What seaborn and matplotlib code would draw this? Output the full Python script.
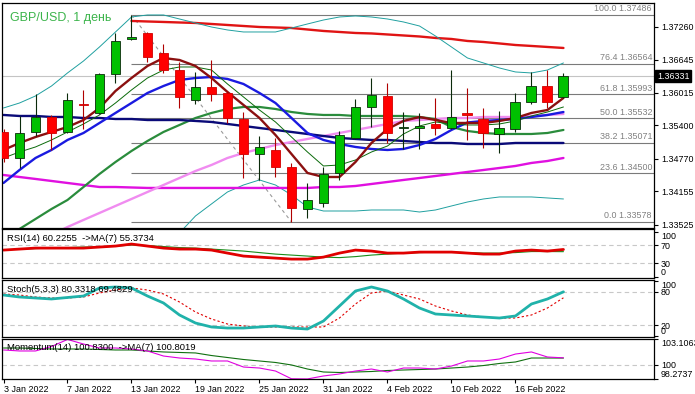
import numpy as np
import pandas as pd
import matplotlib
matplotlib.use("Agg")
import matplotlib.pyplot as plt
import matplotlib.transforms as mtransforms
import seaborn as sns

nan = np.nan

# ---------------- data ----------------
dates = pd.bdate_range("2022-01-03", periods=36)
title = "GBP/USD, 1 день"

open_ = [1.35277, 1.34786, 1.35277, 1.35560, 1.35277, 1.35796, 1.35636, 1.36372, 1.37027, 1.37146,
         1.36768, 1.36447, 1.35881, 1.36126, 1.36013, 1.35522, 1.34861, 1.34937, 1.34616, 1.33823,
         1.33936, 1.34503, 1.35164, 1.35749, 1.35957, 1.35343, 1.35352, 1.35428, 1.35352, 1.35636,
         1.35522, 1.35239, 1.35333, 1.35843, 1.36145, 1.35938]
high = [1.35333, 1.35579, 1.35994, 1.35598, 1.36013, 1.36070, 1.36391, 1.37146, 1.37486, 1.37165,
        1.36938, 1.36598, 1.36410, 1.36636, 1.36051, 1.35654, 1.35201, 1.35164, 1.34692, 1.34314,
        1.34616, 1.35296, 1.35900, 1.36296, 1.36202, 1.35654, 1.35636, 1.35919, 1.36447, 1.36108,
        1.35730, 1.35673, 1.36013, 1.36410, 1.36447, 1.36391]
low = [1.34710, 1.34597, 1.35201, 1.34937, 1.35258, 1.35333, 1.35617, 1.36202, 1.37014, 1.36598,
       1.36391, 1.35730, 1.35806, 1.35862, 1.35447, 1.34408, 1.34371, 1.34427, 1.33578, 1.33653,
       1.33861, 1.34371, 1.35145, 1.35371, 1.35069, 1.34956, 1.34956, 1.35220, 1.35333, 1.35126,
       1.34975, 1.34880, 1.35277, 1.35806, 1.35730, 1.35919]
close = [1.34786, 1.35258, 1.35560, 1.35258, 1.35881, 1.35787, 1.36372, 1.36995, 1.37076, 1.36693,
         1.36447, 1.35938, 1.36126, 1.35994, 1.35541, 1.34861, 1.34994, 1.34616, 1.33842, 1.33993,
         1.34484, 1.35220, 1.35749, 1.35975, 1.35258, 1.35362, 1.35381, 1.35352, 1.35560, 1.35588,
         1.35258, 1.35352, 1.35843, 1.36145, 1.35843, 1.36331]

ma_fast = [1.34937, 1.35069, 1.35182, 1.35277, 1.35371, 1.35503, 1.35730, 1.36051, 1.36296, 1.36523,
           1.36674, 1.36636, 1.36523, 1.36296, 1.36032, 1.35787, 1.35541, 1.35220, 1.34861, 1.34503,
           1.34427, 1.34427, 1.34710, 1.35069, 1.35333, 1.35485, 1.35560, 1.35503, 1.35447, 1.35447,
           1.35447, 1.35485, 1.35541, 1.35636, 1.35692, 1.35919]
ma_mid = [1.34786, 1.34899, 1.34994, 1.35126, 1.35277, 1.35428, 1.35598, 1.35824, 1.36070, 1.36296,
          1.36447, 1.36504, 1.36504, 1.36447, 1.36183, 1.35938, 1.35692, 1.35466, 1.35182, 1.34899,
          1.34635, 1.34654, 1.34748, 1.34899, 1.35012, 1.35239, 1.35390, 1.35466, 1.35428, 1.35409,
          1.35409, 1.35428, 1.35485, 1.35579, 1.35654, 1.35749]
ma_blue = [1.34314, 1.34559, 1.34786, 1.34937, 1.35126, 1.35258, 1.35447, 1.35636, 1.35824, 1.36013,
           1.36145, 1.36259, 1.36296, 1.36315, 1.36278, 1.36183, 1.36013, 1.35824, 1.35541, 1.35258,
           1.35126, 1.35050, 1.34994, 1.34956, 1.34937, 1.34956, 1.35031, 1.35145, 1.35315, 1.35456,
           1.35485, 1.35503, 1.35522, 1.35560, 1.35598, 1.35654]
ma_navy = [1.35598, 1.35579, 1.35579, 1.35560, 1.35560, 1.35541, 1.35541, 1.35522, 1.35522, 1.35503,
           1.35503, 1.35503, 1.35485, 1.35466, 1.35428, 1.35390, 1.35352, 1.35315, 1.35277, 1.35239,
           1.35201, 1.35164, 1.35145, 1.35126, 1.35126, 1.35107, 1.35088, 1.35069, 1.35069, 1.35050,
           1.35050, 1.35050, 1.35069, 1.35069, 1.35069, 1.35069]
ma_green = [1.33294, 1.33446, 1.33634, 1.33823, 1.33993, 1.34238, 1.34484, 1.34710, 1.34918, 1.35107,
            1.35277, 1.35409, 1.35541, 1.35636, 1.35711, 1.35749, 1.35749, 1.35711, 1.35654, 1.35617,
            1.35598, 1.35598, 1.35579, 1.35579, 1.35579, 1.35579, 1.35560, 1.35522, 1.35371, 1.35296,
            1.35258, 1.35239, 1.35239, 1.35239, 1.35258, 1.35315]
ma_pink = [nan, nan, nan, 1.33332, 1.33483, 1.33616, 1.33748, 1.33880, 1.34012, 1.34144,
           1.34276, 1.34408, 1.34540, 1.34654, 1.34786, 1.34880, 1.34956, 1.35031, 1.35088, 1.35145,
           1.35201, 1.35258, 1.35315, 1.35371, 1.35428, 1.35485, 1.35503, 1.35522, 1.35541, 1.35541,
           1.35560, 1.35560, 1.35560, 1.35579, 1.35598, 1.35617]
ma_magenta = [1.34465, 1.34427, 1.34390, 1.34352, 1.34314, 1.34276, 1.34238, 1.34238, 1.34229, 1.34220,
              1.34220, 1.34220, 1.34220, 1.34220, 1.34220, 1.34220, 1.34220, 1.34220, 1.34220, 1.34220,
              1.34238, 1.34238, 1.34257, 1.34295, 1.34333, 1.34371, 1.34408, 1.34446, 1.34484, 1.34522,
              1.34559, 1.34597, 1.34635, 1.34692, 1.34729, 1.34786]
ma_slow = [nan, nan, nan, nan, nan, nan, nan, nan, 1.37373, 1.37363,
           1.37354, 1.37344, 1.37335, 1.37316, 1.37297, 1.37278, 1.37259, 1.37250, 1.37240, 1.37212,
           1.37184, 1.37165, 1.37146, 1.37137, 1.37118, 1.37099, 1.37080, 1.37052, 1.37033, 1.36995,
           1.36976, 1.36948, 1.36919, 1.36901, 1.36882, 1.36863]
bb_upper = [1.35730, 1.35824, 1.35957, 1.36145, 1.36391, 1.36617, 1.36882, 1.37165, 1.37448, 1.37486,
            1.37486, 1.37410, 1.37335, 1.37259, 1.37203, 1.37165, 1.37165, 1.37165, 1.37240, 1.37316,
            1.37391, 1.37448, 1.37467, 1.37448, 1.37410, 1.37354, 1.37278, 1.37089, 1.36882, 1.36674,
            1.36580, 1.36485, 1.36410, 1.36391, 1.36447, 1.36580]
bb_lower = [nan, nan, nan, nan, nan, nan, nan, nan, nan, nan,
            nan, 1.33370, 1.33691, 1.33918, 1.34144, 1.34276, 1.34371, 1.34276, 1.34088, 1.33861,
            1.33785, 1.33785, 1.33785, 1.33804, 1.33804, 1.33804, 1.33766, 1.33804, 1.33880, 1.33955,
            1.34012, 1.34050, 1.34050, 1.34050, 1.34031, 1.34012]

rsi = [58.9, 61.1, 63.3, 63.3, 63.3, 63.3, 65.6, 67.8, 72.2, 67.8,
       63.3, 61.1, 61.1, 58.9, 52.2, 45.6, 43.3, 41.1, 38.9, 38.9,
       43.3, 52.2, 58.9, 56.7, 52.2, 52.2, 54.4, 54.4, 54.4, 52.2,
       50.0, 50.0, 56.7, 58.9, 56.7, 60.2255]
rsi_ma = [58.9, 61.1, 62.2, 63.3, 64.4, 65.6, 65.6, 67.8, 70.0, 68.9,
          66.7, 64.4, 63.3, 61.1, 58.9, 56.7, 53.3, 50.0, 47.8, 45.6,
          43.3, 42.2, 44.4, 47.8, 50.0, 52.2, 53.3, 54.4, 54.4, 53.3,
          52.2, 52.2, 53.3, 55.6, 55.6, 55.3734]
stoch_k = [74.5, 70.9, 69.1, 67.3, 70.0, 72.7, 87.3, 89.1, 87.3, 72.7,
           60.0, 38.2, 23.6, 16.4, 14.5, 14.5, 16.4, 18.2, 14.5, 12.7,
           27.3, 54.5, 81.8, 89.1, 81.8, 67.3, 50.9, 40.0, 38.2, 36.4,
           34.5, 32.7, 36.4, 58.2, 67.3, 80.3318]
stoch_d = [76.4, 74.5, 70.9, 69.1, 69.1, 70.9, 78.2, 83.6, 87.3, 83.6,
           76.4, 61.8, 43.6, 30.9, 21.8, 18.2, 16.4, 16.4, 16.4, 16.4,
           16.4, 32.7, 58.2, 78.2, 81.8, 74.5, 67.3, 54.5, 45.5, 38.2,
           34.5, 32.7, 32.7, 38.2, 50.9, 69.4829]
momentum = [101.78, 101.66, 101.66, 102.20, 103.05, 102.50, 102.02, 102.02, 101.90, 101.66,
            101.05, 100.81, 100.69, 100.45, 100.45, 99.72, 99.60, 99.24, 98.30, 98.28,
            98.64, 98.88, 99.24, 99.48, 99.12, 99.60, 99.60, 99.48, 99.84, 100.45,
            100.45, 100.69, 101.29, 101.54, 100.93, 100.8300]
momentum_ma = [102.02, 102.02, 101.96, 101.90, 101.90, 101.90, 101.84, 101.78, 101.78, 101.66,
               101.54, 101.48, 101.42, 101.11, 100.87, 100.63, 100.45, 100.27, 99.97, 99.48,
               99.12, 99.06, 99.12, 99.18, 99.30, 99.36, 99.42, 99.48, 99.60, 99.72,
               99.90, 100.15, 100.33, 100.81, 100.81, 100.8019]

fib_levels = [0.0, 23.6, 38.2, 50.0, 61.8, 76.4, 100.0]
price_ticks = [1.37260, 1.36645, 1.36015, 1.35400, 1.34770, 1.34155, 1.33525]
rsi_ticks = [0, 30, 70, 100]
rsi_levels = [30, 70]
stoch_ticks = [0, 20, 80, 100]
stoch_levels = [20, 80]
mom_ticks = [98.2737, 100, 103.1063]
mom_level = 100

# ---------------- style ----------------
sns.set_theme(style="white")
plt.rcParams["font.family"] = ["Liberation Sans", "DejaVu Sans"]
FS = 6.4
FS_LAB = 6.8

W, H = 695, 394
fig = plt.figure(figsize=(W / 100, H / 100), dpi=100)
fig.patch.set_facecolor("white")


def rect(top, bottom):
    return [2 / W, 1 - bottom / H, 652 / W, (bottom - top) / H]


ax = fig.add_axes(rect(3, 228))
ax_rsi = fig.add_axes(rect(229, 278))
ax_sto = fig.add_axes(rect(280, 337))
ax_mom = fig.add_axes(rect(339, 379))
axes = [ax, ax_rsi, ax_sto, ax_mom]

idx = np.arange(len(dates))
XL, XR = -0.094, 40.66

o = np.array(open_); h = np.array(high); l = np.array(low); c = np.array(close)


def line(a, values, color, lw, ls="-", z=2):
    s = pd.Series(values, index=idx, dtype=float).dropna()
    sns.lineplot(x=s.index.values, y=s.values, ax=a, color=color, linewidth=lw,
                 linestyle=ls, estimator=None, legend=False, zorder=z)


# ---------------- main panel ----------------
hi_i = int(np.argmax(h)); lo_i = int(np.argmin(l))
fhi, flo = h[hi_i], l[lo_i]
lab_tr = mtransforms.offset_copy(mtransforms.blended_transform_factory(ax.transAxes, ax.transData),
                                 fig=fig, x=-2, y=1.5, units="dots")
for lvl in fib_levels:
    p = flo + (fhi - flo) * lvl / 100
    ax.hlines(p, hi_i, XR, color="#7a7a7a", lw=0.8, zorder=1)
    ax.text(1.0, p, f"{lvl:.1f} {p:.5f}", transform=lab_tr, ha="right", va="bottom",
            fontsize=FS, color="#808080", zorder=6)
ax.plot([hi_i, lo_i], [fhi, flo], color="#9a9a9a", lw=0.8, ls=(0, (3, 3)), zorder=1)

ax.axhline(c[-1], color="#c4c4c4", lw=0.8, zorder=0.5)

line(ax, ma_slow, "#e01414", 1.7)
line(ax, bb_upper, "#20a0a0", 0.7)
line(ax, bb_lower, "#20a0a0", 0.7)
line(ax, ma_magenta, "#e010e0", 1.7)
line(ax, ma_pink, "#f08cf0", 1.7)
line(ax, ma_green, "#2a8c3c", 1.6)
line(ax, ma_navy, "#0a0a78", 1.7)
line(ax, ma_blue, "#1a1ae0", 1.7)
line(ax, ma_mid, "#0a6a0a", 0.7)
line(ax, ma_fast, "#8b1010", 1.7)

up = c >= o
body_bot = np.minimum(o, c)
body_h = np.maximum(np.abs(c - o), 0.00003)
ax.vlines(idx[up], l[up], h[up], color="#0a2a0a", lw=0.8, zorder=3)
ax.vlines(idx[~up], l[~up], h[~up], color="#b00000", lw=0.8, zorder=3)
ax.bar(idx[up], body_h[up], bottom=body_bot[up], width=0.62, color="#00c000",
       edgecolor="#0a2a0a", linewidth=0.6, zorder=4)
ax.bar(idx[~up], body_h[~up], bottom=body_bot[~up], width=0.62, color="#ff0000",
       edgecolor="#d00000", linewidth=0.6, zorder=4)

ax.set_ylim(1.33464, 1.37712)
ax.set_yticks(price_ticks)
ax.set_yticklabels([f"{v:.5f}" for v in price_ticks])

box_tr = mtransforms.offset_copy(mtransforms.blended_transform_factory(ax.transAxes, ax.transData),
                                 fig=fig, x=3, y=0, units="dots")
ax.text(1.0, c[-1], f"{c[-1]:.5f}", transform=box_tr, ha="left", va="center",
        fontsize=FS, color="white", clip_on=False, zorder=10,
        bbox=dict(boxstyle="square,pad=0.18", fc="black", ec="black"))

fig.text(10 / W, 1 - 18 / H, title, color="#3cb44b", fontsize=9, ha="left", va="center")

# ---------------- RSI ----------------
for lv in rsi_levels:
    ax_rsi.axhline(lv, color="#c8c8c8", lw=0.8, ls=(0, (4, 3)), zorder=1)
line(ax_rsi, rsi_ma, "#1a8c1a", 0.8)
line(ax_rsi, rsi, "#e00000", 2.0)
ax_rsi.set_ylim(-3, 105.6)
ax_rsi.set_yticks(rsi_ticks)
ax_rsi.set_yticklabels([str(v) for v in rsi_ticks])
ax_rsi.text(5 / 652, 0.816, f"RSI(14) {rsi[-1]:.4f}  ->MA(7) {rsi_ma[-1]:.4f}",
            transform=ax_rsi.transAxes, fontsize=FS_LAB, va="center", ha="left", color="black")

# ---------------- Stochastic ----------------
for lv in stoch_levels:
    ax_sto.axhline(lv, color="#c8c8c8", lw=0.8, ls=(0, (4, 3)), zorder=1)
line(ax_sto, stoch_d, "#e00000", 0.8, ls=(0, (2, 2)))
line(ax_sto, stoch_k, "#20b2aa", 2.0)
ax_sto.set_ylim(-1.8, 101.8)
ax_sto.set_yticks(stoch_ticks)
ax_sto.set_yticklabels([str(v) for v in stoch_ticks])
ax_sto.text(5 / 652, 0.825, f"Stoch(5,3,3) {stoch_k[-1]:.4f} {stoch_d[-1]:.4f}",
            transform=ax_sto.transAxes, fontsize=FS_LAB, va="center", ha="left", color="black")

# ---------------- Momentum ----------------
ax_mom.axhline(mom_level, color="#c8c8c8", lw=0.8, ls=(0, (4, 3)), zorder=1)
line(ax_mom, momentum_ma, "#107010", 0.8)
line(ax_mom, momentum, "#e000e0", 0.8)
ax_mom.set_ylim(mom_ticks[0], mom_ticks[-1])
ax_mom.set_yticks(mom_ticks)
ax_mom.set_yticklabels(["98.2737", "100", "103.1063"])
ax_mom.text(5 / 652, 0.775, f"Momentum(14) {momentum[-1]:.4f}  ->MA(7) {momentum_ma[-1]:.4f}",
            transform=ax_mom.transAxes, fontsize=FS_LAB, va="center", ha="left", color="black")

tick_pos = idx[::4]
ax_mom.set_xticks(tick_pos)
ax_mom.set_xticklabels([f"{d.day} {d:%b %Y}" for d in dates[::4]])

# ---------------- common formatting ----------------
for a in axes:
    a.set_xlim(XL, XR)
    a.set_facecolor("white")
    a.set_xlabel("")
    a.set_ylabel("")
    for s in a.spines.values():
        s.set_color("black")
        s.set_linewidth(0.9)
        s.set_visible(True)
    a.yaxis.tick_right()
    a.tick_params(axis="y", which="both", left=False, right=True, labelleft=False, labelright=True,
                  direction="out", length=3, width=0.8, pad=2, labelsize=FS, colors="black")
    if a is not ax_mom:
        a.tick_params(axis="x", bottom=False, labelbottom=False)
    a.grid(False)

ax_mom.tick_params(axis="x", bottom=True, labelbottom=True, direction="out", length=3,
                   width=0.8, pad=1, labelsize=FS, colors="black")
for t in ax_mom.xaxis.get_major_ticks():
    t.label1.set_horizontalalignment("left")

for a, top_txt, bot_txt in [(ax_rsi, "100", "0"), (ax_sto, "100", "0"),
                            (ax_mom, "103.1063", "98.2737")]:
    for t in a.yaxis.get_major_ticks():
        txt = t.label2.get_text()
        if txt == top_txt:
            t.label2.set_verticalalignment("top")
        elif txt == bot_txt:
            t.label2.set_verticalalignment("bottom")

fig.savefig("out.png", dpi=100, facecolor="white")
